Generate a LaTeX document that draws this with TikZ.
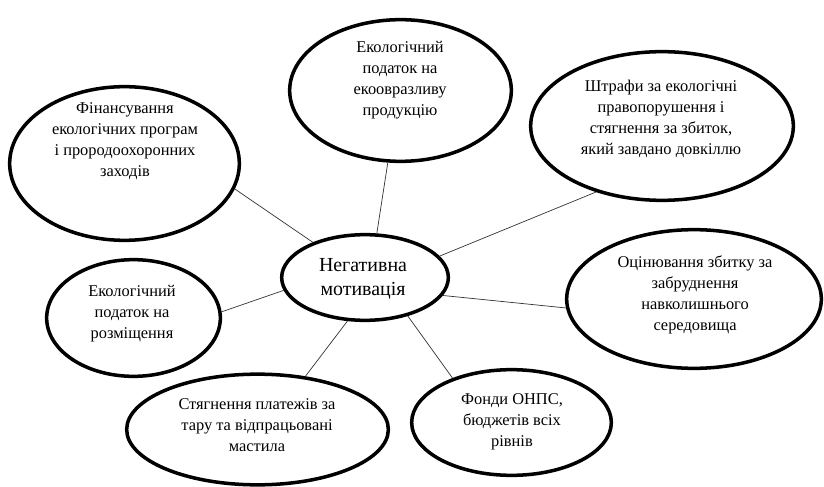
\documentclass[tikz,border=0pt]{standalone}
\usepackage{fontspec}
\setmainfont{Liberation Serif}
\usepackage{tikz}
\usetikzlibrary{shapes.geometric}

\begin{document}
\begin{tikzpicture}[y=-0.03cm,x=0.03cm,
	bubble/.style={draw, ellipse, line width=3pt, inner sep=0pt},
	txt/.style={align=center, font=\fontsize{14}{18}\selectfont},
	link/.style={draw=black!80, line width=0.6pt}]
	\useasboundingbox (0,0) rectangle (824,487);

	\node[bubble, minimum width=5.0cm, minimum height=2.57cm] (neg) at (365,277.5) {};
	\node[bubble, minimum width=6.89cm, minimum height=4.61cm] (fin) at (124.5,163.5) {};
	\node[bubble, minimum width=6.65cm, minimum height=4.25cm] (eko) at (400.5,90.5) {};
	\node[bubble, minimum width=7.88cm, minimum height=4.46cm] (shtr) at (662,126) {};
	\node[bubble, minimum width=7.64cm, minimum height=4.16cm] (otsin) at (694,299) {};
	\node[bubble, minimum width=5.99cm, minimum height=3.17cm] (fond) at (511.5,422.5) {};
	\node[bubble, minimum width=7.85cm, minimum height=3.32cm] (styag) at (257.5,429.5) {};
	\node[bubble, minimum width=5.21cm, minimum height=3.5cm] (rozm) at (133.5,318) {};

	\node[align=center, font=\fontsize{17}{20.5}\selectfont] (neg-t) at (363,279) {Негативна\\мотивація};
	\node[txt] (fin-t) at (125,141) {Фінансування\\екологічних програм\\і прородоохоронних\\заходів};
	\node[txt] (eko-t) at (400,80) {Екологічний\\податок на\\екоовразливу\\продукцію};
	\node[txt] (shtr-t) at (661,119) {Штрафи за екологічні\\правопорушення і\\стягнення за збиток,\\який завдано довкіллю};
	\node[txt] (otsin-t) at (695,295) {Оцінювання збитку за\\забруднення\\навколишнього\\середовища};
	\node[txt] (fond-t) at (512,422) {Фонди ОНПС,\\бюджетів всіх\\рівнів};
	\node[txt] (styag-t) at (257,425) {Стягнення платежів за\\тару та відпрацьовані\\мастила};
	\node[txt] (rozm-t) at (132,314) {Екологічний\\податок на\\розміщення};

	\draw[link] (neg.146) -- (fin.-13);
	\draw[link] (neg.75) -- (eko.-100);
	\draw[link] (neg.16) -- (shtr.-135);
	\draw[link] (neg.-13) -- (otsin.-176);
	\draw[link] (neg.-42) -- (fond.143);
	\draw[link] (neg.-112) -- (styag.48);
	\draw[link] (neg.-171) -- (rozm.4);
\end{tikzpicture}
\end{document}
